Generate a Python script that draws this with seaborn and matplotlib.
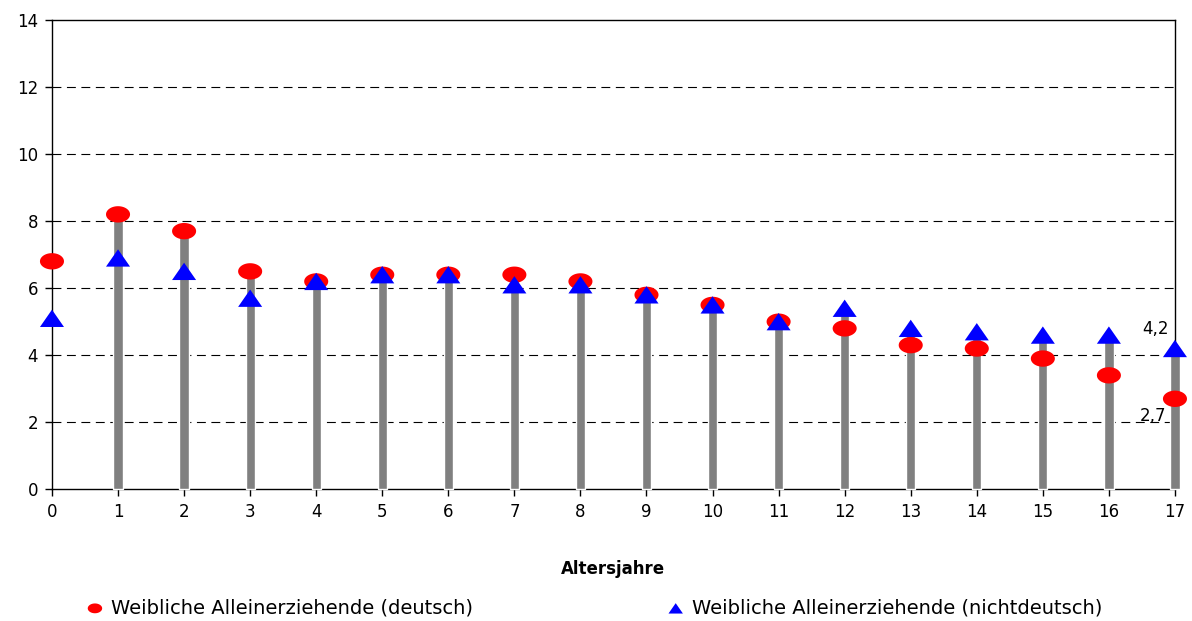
"""Weibliche Alleinerziehende nach Altersjahren des Kindes"""
import numpy as np
import pandas as pd
import seaborn as sns
import matplotlib.pyplot as plt
from matplotlib.path import Path

ages = list(range(18))
deutsch = [6.8, 8.2, 7.7, 6.5, 6.2, 6.4, 6.4, 6.4, 6.2, 5.8, 5.5, 5.0, 4.8, 4.3, 4.2, 3.9, 3.4, 2.7]
nichtdeutsch = [5.1, 6.9, 6.5, 5.7, 6.2, 6.4, 6.4, 6.1, 6.1, 5.8, 5.5, 5.0, 5.4, 4.8, 4.7, 4.6, 4.6, 4.2]
y_ticks = [0, 2, 4, 6, 8, 10, 12, 14]
label_de = 'Weibliche Alleinerziehende (deutsch)'
label_nd = 'Weibliche Alleinerziehende (nichtdeutsch)'

sns.set_style('white')
plt.rcParams['font.family'] = ['DejaVu Sans']
plt.rcParams['text.color'] = 'black'

# flache Marker wie im Original (Ellipse, breites Dreieck)
t = np.linspace(0, 2 * np.pi, 60)
ellipse = Path(np.column_stack([np.cos(t), 0.68 * np.sin(t)]), closed=True)
triangle = Path([(-1, -0.72), (1, -0.72), (0, 0.72), (-1, -0.72)], closed=True)

df = pd.DataFrame({'Alter': ages, 'deutsch': deutsch, 'nichtdeutsch': nichtdeutsch})
df['hoehe'] = df[['deutsch', 'nichtdeutsch']].max(axis=1)
bars = df[df['Alter'] > 0]

fig, ax = plt.subplots(figsize=(11.92, 6.21), dpi=100)
fig.subplots_adjust(left=0.0436, right=0.9857, top=0.968, bottom=0.212)

sns.barplot(data=bars, x='Alter', y='hoehe', native_scale=True, color='#808080',
            saturation=1, width=0.14, ax=ax)
for p in ax.patches:
    p.set_clip_on(False)
    p.set_zorder(3)
sns.scatterplot(data=df, x='Alter', y='deutsch', marker=ellipse, s=300, color='#ff0000',
                edgecolor='none', linewidth=0, ax=ax, zorder=4, label=label_de, clip_on=False)
sns.scatterplot(data=df, x='Alter', y='nichtdeutsch', marker=triangle, s=300, color='#0000ff',
                edgecolor='none', linewidth=0, ax=ax, zorder=5, label=label_nd, clip_on=False)

ax.set_xlim(0, 17)
ax.set_ylim(0, 14)
ax.set_xticks(ages)
ax.set_xticklabels([str(a) for a in ages])
ax.set_yticks(y_ticks)
ax.tick_params(axis='both', labelsize=12, length=5, width=1, color='black', direction='out',
               bottom=True, left=True, pad=5, labelcolor='black')
for yv in y_ticks[1:-1]:
    ax.axhline(yv, color='black', linewidth=0.8, linestyle=(0, (8, 5)), zorder=1)
for side in ax.spines.values():
    side.set_color('black')
    side.set_linewidth(1)

ax.set_xlabel('Altersjahre', fontsize=12, fontweight='bold', labelpad=28, color='black')
ax.set_ylabel('')

ax.text(16.9, 4.5, '4,2', ha='right', va='bottom', fontsize=12)
ax.text(16.87, 2.45, '2,7', ha='right', va='top', fontsize=12)

handles, labels = ax.get_legend_handles_labels()
ax.legend(handles, labels, loc='center left', bbox_to_anchor=(0.0715, 0.021), bbox_transform=fig.transFigure,
          ncol=2, frameon=False, fontsize=14, markerscale=0.6, handletextpad=0.35,
          columnspacing=9.9, handlelength=1.0, borderaxespad=0, borderpad=0, labelcolor='black')

plt.savefig('out.png', dpi=100)
plt.close()
